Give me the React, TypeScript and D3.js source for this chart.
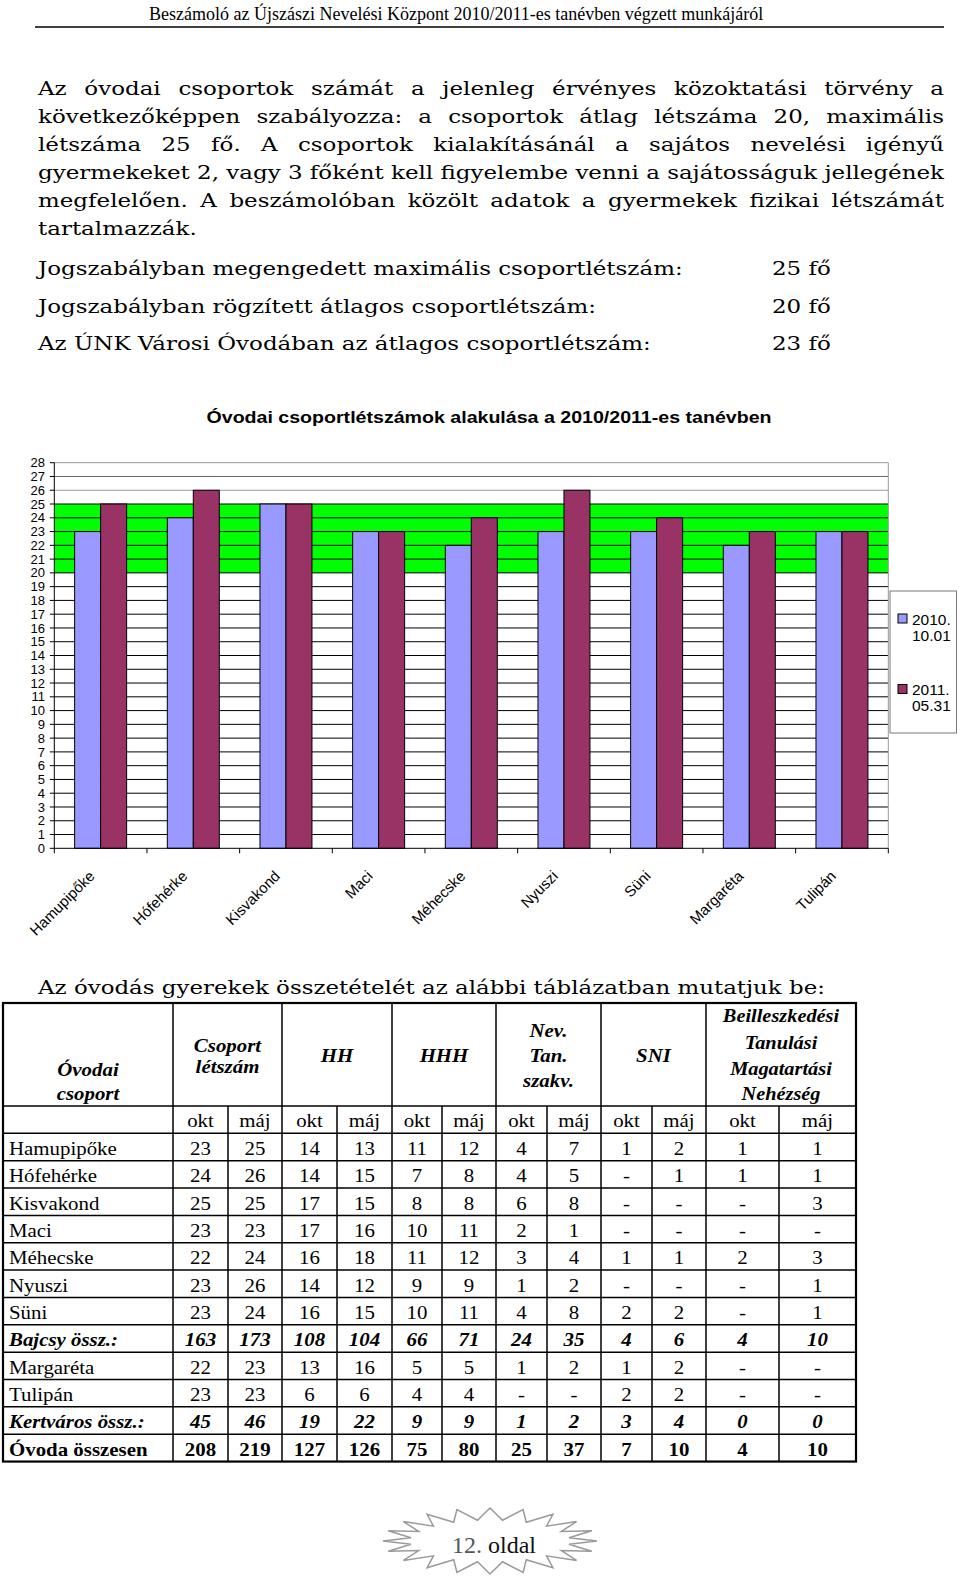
import React, { useMemo } from 'react';
import * as d3 from 'd3';

// ---------- DATA ----------
const headerTitle = 'Beszámoló az Újszászi Nevelési Központ 2010/2011-es tanévben végzett munkájáról';
const paragraphLines = [
  'Az óvodai csoportok számát a jelenleg érvényes közoktatási törvény a',
  'következőképpen szabályozza: a csoportok átlag létszáma 20, maximális',
  'létszáma 25 fő. A csoportok kialakításánál a sajátos nevelési igényű',
  'gyermekeket 2, vagy 3 főként kell figyelembe venni a sajátosságuk jellegének',
  'megfelelően. A beszámolóban közölt adatok a gyermekek fizikai létszámát',
  'tartalmazzák.',
];
const ruleLabels = [
  'Jogszabályban megengedett maximális csoportlétszám:',
  'Jogszabályban rögzített átlagos csoportlétszám:',
  'Az ÚNK Városi Óvodában az átlagos csoportlétszám:',
];
const ruleValues = ['25 fő', '20 fő', '23 fő'];

const chartTitle = 'Óvodai csoportlétszámok alakulása a 2010/2011-es tanévben';
const categories = ['Hamupipőke', 'Hófehérke', 'Kisvakond', 'Maci', 'Méhecske', 'Nyuszi', 'Süni', 'Margaréta', 'Tulipán'];
const seriesKeys = ['okt', 'maj'];
const values2010 = [23, 24, 25, 23, 22, 23, 23, 22, 23];
const values2011 = [25, 26, 25, 23, 24, 26, 24, 23, 23];
const legendLabels = [['2010.', '10.01'], ['2011.', '05.31']];
const yMax = 28;
const yTicks = d3.range(0, yMax + 1);
const normBandLow = 20;
const normBandHigh = 25;

const tableIntro = 'Az óvodás gyerekek összetételét az alábbi táblázatban mutatjuk be:';
const firstHeader = ['Óvodai', 'csoport'];
const groupHeaders = [
  ['Csoport', 'létszám'],
  ['HH'],
  ['HHH'],
  ['Nev.', 'Tan.', 'szakv.'],
  ['SNI'],
  ['Beilleszkedési', 'Tanulási', 'Magatartási', 'Nehézség'],
];
const subHeaders = ['okt', 'máj'];
const rowLabels = ['Hamupipőke', 'Hófehérke', 'Kisvakond', 'Maci', 'Méhecske', 'Nyuszi', 'Süni', 'Bajcsy össz.:', 'Margaréta', 'Tulipán', 'Kertváros össz.:', 'Óvoda összesen'];
const rowKinds = ['n', 'n', 'n', 'n', 'n', 'n', 'n', 'sub', 'n', 'n', 'sub', 'tot'];
const rowValues = [
  ['23', '25', '14', '13', '11', '12', '4', '7', '1', '2', '1', '1'],
  ['24', '26', '14', '15', '7', '8', '4', '5', '-', '1', '1', '1'],
  ['25', '25', '17', '15', '8', '8', '6', '8', '-', '-', '-', '3'],
  ['23', '23', '17', '16', '10', '11', '2', '1', '-', '-', '-', '-'],
  ['22', '24', '16', '18', '11', '12', '3', '4', '1', '1', '2', '3'],
  ['23', '26', '14', '12', '9', '9', '1', '2', '-', '-', '-', '1'],
  ['23', '24', '16', '15', '10', '11', '4', '8', '2', '2', '-', '1'],
  ['163', '173', '108', '104', '66', '71', '24', '35', '4', '6', '4', '10'],
  ['22', '23', '13', '16', '5', '5', '1', '2', '1', '2', '-', '-'],
  ['23', '23', '6', '6', '4', '4', '-', '-', '2', '2', '-', '-'],
  ['45', '46', '19', '22', '9', '9', '1', '2', '3', '4', '0', '0'],
  ['208', '219', '127', '126', '75', '80', '25', '37', '7', '10', '4', '10'],
];
const pageLabel = ['12.', 'oldal'];

// ---------- MEASURE ----------
const cnv = typeof document !== 'undefined' ? document.createElement('canvas') : null;
const ctx = cnv ? cnv.getContext('2d') : null;
function tw(text: string, font: string) {
  if (!ctx) return text.length * 9;
  ctx.font = font;
  return ctx.measureText(text).width;
}

const SERIF = "'Liberation Serif'";
const BODY = "'DejaVu Serif'";
const SANS = "'Liberation Sans'";

function SText(props: any) {
  const { x, y, text, size, family, weight = 'normal', fstyle = 'normal', sx = 1, anchor = 'start', fill = '#000' } = props;
  const w = tw(text, `${fstyle} ${weight} ${size}px ${family}`) * sx;
  const x0 = anchor === 'middle' ? x - w / 2 : anchor === 'end' ? x - w : x;
  return (
    <text x={x0} y={y} textLength={w} lengthAdjust="spacingAndGlyphs"
      style={{ fontFamily: family, fontSize: size, fontWeight: weight, fontStyle: fstyle }} fill={fill}>
      {text}
    </text>
  );
}

export default function App() {
  const W = 960, H = 1578;

  // body text layout
  const bodySize = 19;
  const bodyFont = `normal normal ${bodySize}px ${BODY}`;
  const textLeft = 38, textRight = 944;
  const bodySx = (textRight - textLeft) / tw(paragraphLines[3], bodyFont);
  const spaceW = tw(' ', bodyFont) * bodySx;

  const para = paragraphLines.map((line, li) => {
    const words = line.split(' ');
    const widths = words.map((w) => tw(w, bodyFont) * bodySx);
    const total = d3.sum(widths);
    const last = li === paragraphLines.length - 1;
    const gap = last || words.length < 2 ? spaceW : (textRight - textLeft - total) / (words.length - 1);
    let x = textLeft;
    const y = 95 + li * 28;
    return words.map((w, i) => {
      const el = (
        <text key={`p${li}-${i}`} x={x} y={y} textLength={widths[i]} lengthAdjust="spacingAndGlyphs"
          style={{ fontFamily: BODY, fontSize: bodySize }}>{w}</text>
      );
      x += widths[i] + gap;
      return el;
    });
  });

  // chart scales
  const plotL = 54.3, plotR = 888.3, plotT = 462.7, plotB = 848.3;
  const x0 = d3.scaleBand<string>().domain(categories).range([plotL, plotR]).paddingInner(0.439).paddingOuter(0.2195);
  const x1 = d3.scaleBand<string>().domain(seriesKeys).range([0, x0.bandwidth()]).padding(0);
  const y = d3.scaleLinear().domain([0, yMax]).range([plotB, plotT]);
  const step = x0.step();
  const seriesColors: Record<string, string> = { okt: '#9999FF', maj: '#993366' };
  const seriesVals: Record<string, number[]> = { okt: values2010, maj: values2011 };

  // table layout
  const colX = [3, 173, 228, 282, 337, 392, 442, 496, 547, 601, 652, 706, 779, 856];
  const tTop = 1003, hBottom = 1106, rowH = 27.35;
  const nRows = rowLabels.length + 1;
  const tBottom = hBottom + nRows * rowH;
  const tSize = 19.5;
  const tSx = 1.07;
  const headerLines: number[][] = [[1052, 1073], [1062], [1062], [1037, 1062, 1087], [1062], [1022, 1049, 1075, 1100]];

  // star for page number
  const starPts = useMemo(() => {
    const n = 20;
    const cx = 490, cy = 1541;
    const pts: [number, number][] = [];
    for (let i = 0; i < n * 2; i++) {
      const a = (i * Math.PI) / n;
      const outer = i % 2 === 0;
      const rx = outer ? 107 : 80;
      const ry = outer ? 33 : 21;
      pts.push([cx + rx * Math.cos(a), cy + ry * Math.sin(a)]);
    }
    return d3.line()(pts.concat([pts[0]])) as string;
  }, []);

  return (
    <svg width={W} height={H} style={{ position: 'absolute', left: 0, top: 0, background: '#fff' }}>
      <rect x={0} y={0} width={W} height={H} fill="#fff" />
      {/* page header */}
      <SText x={149} y={20} text={headerTitle} size={18} family={SERIF} sx={1} anchor="start" />
      <line x1={35} x2={944} y1={27} y2={27} stroke="#000" strokeWidth={1.3} />

      {/* paragraph */}
      {para}

      {ruleLabels.map((l, i) => (
        <g key={`r${i}`}>
          <text x={textLeft} y={275 + i * 37.5} textLength={tw(l, bodyFont) * bodySx} lengthAdjust="spacingAndGlyphs"
            style={{ fontFamily: BODY, fontSize: bodySize }}>{l}</text>
          <text x={772} y={275 + i * 37.5} textLength={tw(ruleValues[i], bodyFont) * bodySx} lengthAdjust="spacingAndGlyphs"
            style={{ fontFamily: BODY, fontSize: bodySize }}>{ruleValues[i]}</text>
        </g>
      ))}

      {/* chart */}
      <text x={206.5} y={423} textLength={565} lengthAdjust="spacingAndGlyphs"
        style={{ fontFamily: SANS, fontSize: 17, fontWeight: 'bold' }}>{chartTitle}</text>
      <rect x={plotL} y={plotT} width={plotR - plotL} height={plotB - plotT} fill="#fff" />
      <rect x={plotL} y={y(normBandHigh)} width={plotR - plotL} height={y(normBandLow) - y(normBandHigh)} fill="#00FF00" />
      {yTicks.filter((v) => v > 0).map((v) => (
        <line key={`g${v}`} x1={plotL} x2={plotR} y1={y(v)} y2={y(v)}
          stroke={v <= normBandHigh ? '#000' : v === 27 ? '#666' : '#9a9a9a'} strokeWidth={1} />
      ))}
      <line x1={plotR} x2={plotR} y1={plotT} y2={plotB} stroke="#9a9a9a" strokeWidth={1} />
      {categories.map((c, ci) => (
        <g key={`b${ci}`} transform={`translate(${x0(c)},0)`}>
          {seriesKeys.map((k) => (
            <rect key={k} x={x1(k)} y={y(seriesVals[k][ci])} width={x1.bandwidth()} height={plotB - y(seriesVals[k][ci])}
              fill={seriesColors[k]} stroke="#000" strokeWidth={1} />
          ))}
        </g>
      ))}
      <line x1={plotL} x2={plotL} y1={plotT} y2={plotB} stroke="#000" strokeWidth={1} />
      <line x1={plotL} x2={plotR} y1={plotB} y2={plotB} stroke="#000" strokeWidth={1} />
      {yTicks.map((v) => (
        <g key={`yt${v}`}>
          <line x1={plotL - 4.5} x2={plotL} y1={y(v)} y2={y(v)} stroke="#000" />
          <text x={45} y={y(v) + 4.6} textAnchor="end" style={{ fontFamily: SANS, fontSize: 13 }}>{v}</text>
        </g>
      ))}
      {d3.range(0, categories.length + 1).map((i) => (
        <line key={`xt${i}`} x1={plotL + i * step} x2={plotL + i * step} y1={plotB} y2={plotB + 5} stroke="#000" />
      ))}
      {categories.map((c) => {
        const cx = (x0(c) as number) + x0.bandwidth() / 2 - 5;
        return (
          <text key={`xl${c}`} transform={`translate(${cx},${877}) rotate(-45)`} textAnchor="end"
            style={{ fontFamily: SANS, fontSize: 15 }}>{c}</text>
        );
      })}
      {/* legend */}
      <rect x={890} y={591} width={66.5} height={142} fill="#fff" stroke="#7a7a7a" strokeWidth={1} />
      {legendLabels.map((lab, i) => (
        <g key={`lg${i}`}>
          <rect x={898} y={614 + i * 70.5} width={9} height={9} fill={seriesColors[seriesKeys[i]]} stroke="#000" strokeWidth={1} />
          <text x={912} y={624.5 + i * 70} style={{ fontFamily: SANS, fontSize: 15.5 }}>{lab[0]}</text>
          <text x={912} y={641 + i * 70} style={{ fontFamily: SANS, fontSize: 15.5 }}>{lab[1]}</text>
        </g>
      ))}

      {/* table intro */}
      <text x={textLeft} y={994} textLength={787} lengthAdjust="spacingAndGlyphs"
        style={{ fontFamily: BODY, fontSize: bodySize }}>{tableIntro}</text>

      {/* table */}
      <g>
        <line x1={colX[0]} x2={colX[colX.length - 1]} y1={hBottom} y2={hBottom} stroke="#000" strokeWidth={1.5} />
        {d3.range(1, nRows).map((r) => (
          <line key={`h${r}`} x1={colX[0]} x2={colX[colX.length - 1]} y1={hBottom + r * rowH} y2={hBottom + r * rowH}
            stroke="#000" strokeWidth={1.5} />
        ))}
        {colX.slice(1, -1).map((cx, i) => {
          const groupEdge = (i + 1) % 2 === 1;
          return (
            <line key={`v${i}`} x1={cx} x2={cx} y1={groupEdge ? tTop : hBottom} y2={tBottom} stroke="#000" strokeWidth={1.5} />
          );
        })}
        <rect x={colX[0]} y={tTop} width={colX[colX.length - 1] - colX[0]} height={tBottom - tTop} fill="none" stroke="#000" strokeWidth={2.2} />

        {firstHeader.map((t, i) => (
          <SText key={`fh${i}`} x={(colX[0] + colX[1]) / 2} y={1076 + i * 24} text={t} size={tSize} family={SERIF}
            weight="bold" fstyle="italic" sx={tSx} anchor="middle" />
        ))}
        {groupHeaders.map((lines, gi) => {
          const cx = (colX[1 + gi * 2] + colX[3 + gi * 2]) / 2;
          return lines.map((t, li) => (
            <SText key={`gh${gi}-${li}`} x={cx} y={headerLines[gi][li]} text={t} size={gi === 5 ? 19 : tSize} family={SERIF}
              weight="bold" fstyle="italic" sx={tSx} anchor="middle" />
          ));
        })}
        {d3.range(12).map((c) => (
          <SText key={`sh${c}`} x={(colX[1 + c] + colX[2 + c]) / 2} y={hBottom + 20.5} text={subHeaders[c % 2]} size={tSize}
            family={SERIF} sx={tSx} anchor="middle" />
        ))}
        {rowLabels.map((lab, r) => {
          const yb = hBottom + (r + 1) * rowH + 21.5;
          const kind = rowKinds[r];
          const weight = kind === 'n' ? 'normal' : 'bold';
          const fstyle = kind === 'sub' ? 'italic' : 'normal';
          return (
            <g key={`row${r}`}>
              <SText x={9} y={yb} text={lab} size={tSize} family={SERIF} weight={weight} fstyle={fstyle} sx={tSx} />
              {rowValues[r].map((v, c) => (
                <SText key={`c${c}`} x={(colX[1 + c] + colX[2 + c]) / 2} y={yb} text={v} size={tSize} family={SERIF}
                  weight={weight} fstyle={fstyle} sx={tSx} anchor="middle" />
              ))}
            </g>
          );
        })}
      </g>

      {/* page number */}
      <path d={starPts} fill="#fff" stroke="#9a9a9a" strokeWidth={1.5} />
      <text x={452} y={1553} style={{ fontFamily: SERIF, fontSize: 24 }}>
        <tspan fill="#555">{pageLabel[0]}</tspan>
        <tspan fill="#111"> {pageLabel[1]}</tspan>
      </text>
    </svg>
  );
}
